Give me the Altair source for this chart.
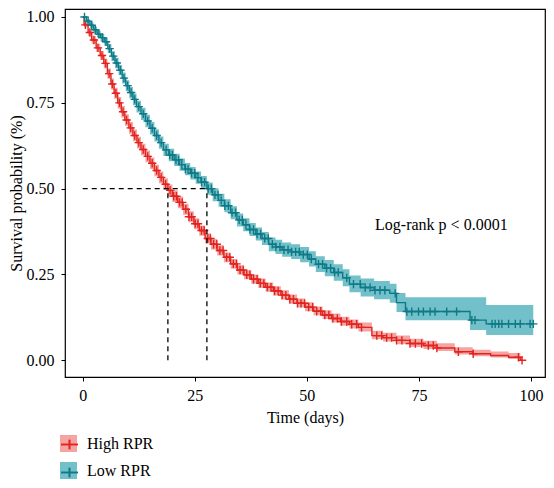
import numpy as np
import pandas as pd
import altair as alt

groups = ["High RPR", "Low RPR"]
line_colors = ["#E3231F", "#0F7A86"]
fill_colors = ["#F4A5A2", "#72C0C9"]

# ---- High RPR (red) Kaplan-Meier steps ----
high_time = [0.0, 0.3, 1.2, 2.0, 3.0, 3.9, 4.7, 5.5, 6.3, 7.0, 7.8, 8.6, 9.4, 10.3, 11.2,
             12.1, 13.0, 14.0, 15.0, 16.0, 17.0, 18.0, 19.0, 20.0, 21.2, 22.4, 23.6, 24.8,
             26.0, 27.3, 28.6, 30.0, 31.5, 33.0, 34.5, 36.0, 37.6, 39.2, 40.8, 42.5, 44.2,
             46.0, 47.8, 49.6, 51.5, 53.5, 55.5, 57.5, 59.5, 61.5, 64.5, 67.0, 70.0, 73.0,
             76.0, 79.0, 83.0, 87.0, 91.0, 95.0, 97.6]
high_surv = [1.000, 0.977, 0.955, 0.933, 0.910, 0.888, 0.865, 0.835, 0.805, 0.778, 0.750,
             0.724, 0.700, 0.677, 0.655, 0.634, 0.614, 0.594, 0.574, 0.553, 0.533, 0.513,
             0.495, 0.478, 0.460, 0.440, 0.418, 0.398, 0.378, 0.355, 0.338, 0.320, 0.300,
             0.281, 0.263, 0.249, 0.236, 0.224, 0.213, 0.202, 0.190, 0.178, 0.166, 0.155,
             0.143, 0.132, 0.122, 0.113, 0.105, 0.096, 0.072, 0.066, 0.058, 0.049, 0.043,
             0.036, 0.025, 0.019, 0.014, 0.009, 0.000]
high_lo = [1.000, 0.970, 0.945, 0.922, 0.898, 0.875, 0.851, 0.820, 0.789, 0.762, 0.733,
           0.707, 0.683, 0.660, 0.638, 0.617, 0.597, 0.577, 0.557, 0.536, 0.516, 0.496,
           0.478, 0.461, 0.443, 0.424, 0.402, 0.382, 0.363, 0.340, 0.323, 0.305, 0.286,
           0.267, 0.250, 0.236, 0.223, 0.211, 0.200, 0.189, 0.177, 0.165, 0.154, 0.143,
           0.131, 0.120, 0.110, 0.101, 0.093, 0.084, 0.061, 0.055, 0.047, 0.039, 0.033,
           0.027, 0.017, 0.012, 0.008, 0.004, 0.000]
high_hi = [1.000, 0.984, 0.964, 0.944, 0.922, 0.901, 0.879, 0.850, 0.821, 0.794, 0.767,
           0.741, 0.717, 0.694, 0.672, 0.651, 0.631, 0.611, 0.591, 0.570, 0.550, 0.530,
           0.512, 0.495, 0.477, 0.456, 0.434, 0.414, 0.393, 0.370, 0.353, 0.335, 0.314,
           0.295, 0.277, 0.263, 0.250, 0.238, 0.227, 0.216, 0.204, 0.192, 0.180, 0.169,
           0.157, 0.146, 0.136, 0.127, 0.119, 0.110, 0.086, 0.080, 0.072, 0.063, 0.057,
           0.050, 0.038, 0.031, 0.026, 0.021, 0.000]
high_end = 98.0
high_censor = [0.6, 1.6, 2.5, 3.4, 4.3, 5.1, 5.9, 6.6, 7.4, 8.2, 9.0, 9.8, 10.7, 11.6, 12.5,
               13.5, 14.5, 15.5, 16.5, 17.5, 18.5, 19.5, 20.3, 20.9, 21.6, 22.2, 23.0, 23.7,
               24.3, 25.1, 25.7, 26.5, 27.1, 27.9, 28.5, 29.2, 29.9, 30.6, 31.3, 32.1, 32.8,
               33.6, 34.3, 35.1, 35.8, 36.6, 37.3, 38.1, 38.9, 39.6, 40.4, 41.2, 42.0, 42.8,
               43.6, 44.5, 45.3, 46.2, 47.0, 47.9, 48.7, 49.5, 50.4, 51.3, 52.2, 53.1, 54.0,
               54.9, 55.8, 56.8, 57.7, 58.9, 60.0, 61.1, 62.2, 65.6, 66.7, 67.8, 68.9, 70.0,
               71.2, 73.0, 74.2, 75.6, 77.1, 78.2, 79.0, 83.8, 87.1, 97.2, 98.0]

# ---- Low RPR (teal) ----
low_time = [0.0, 0.8, 1.6, 2.4, 3.2, 4.0, 4.8, 5.6, 6.4, 7.2, 8.0, 8.8, 9.6, 10.4, 11.2,
            12.0, 13.0, 14.0, 15.0, 16.0, 17.0, 18.0, 19.2, 20.4, 21.6, 22.8, 24.0, 25.2,
            26.4, 27.7, 29.0, 30.3, 31.6, 33.0, 34.4, 35.8, 37.2, 38.6, 40.0, 41.5, 43.0,
            44.5, 46.5, 48.5, 50.5, 52.0, 54.0, 56.0, 58.0, 59.5, 62.0, 65.0, 68.5, 70.0,
            72.0, 86.4, 90.0]
low_surv = [1.000, 0.988, 0.976, 0.963, 0.950, 0.940, 0.928, 0.908, 0.886, 0.866, 0.845,
            0.822, 0.800, 0.780, 0.760, 0.739, 0.718, 0.697, 0.676, 0.655, 0.634, 0.613,
            0.598, 0.584, 0.570, 0.557, 0.545, 0.532, 0.519, 0.500, 0.482, 0.466, 0.450,
            0.430, 0.409, 0.395, 0.381, 0.368, 0.355, 0.338, 0.330, 0.322, 0.316, 0.308,
            0.295, 0.280, 0.268, 0.256, 0.240, 0.222, 0.212, 0.204, 0.195, 0.168, 0.142,
            0.117, 0.106]
low_lo = [1.000, 0.982, 0.968, 0.954, 0.940, 0.929, 0.916, 0.895, 0.872, 0.851, 0.830,
          0.806, 0.784, 0.763, 0.743, 0.722, 0.700, 0.679, 0.658, 0.637, 0.616, 0.595,
          0.580, 0.566, 0.552, 0.539, 0.527, 0.514, 0.501, 0.482, 0.463, 0.447, 0.431,
          0.411, 0.390, 0.376, 0.362, 0.349, 0.336, 0.318, 0.310, 0.302, 0.295, 0.286,
          0.273, 0.257, 0.245, 0.232, 0.216, 0.198, 0.186, 0.178, 0.168, 0.141, 0.117,
          0.088, 0.074]
low_hi = [1.000, 0.994, 0.984, 0.972, 0.960, 0.951, 0.940, 0.921, 0.900, 0.881, 0.860,
          0.838, 0.816, 0.797, 0.777, 0.756, 0.736, 0.715, 0.694, 0.673, 0.652, 0.631,
          0.616, 0.602, 0.588, 0.575, 0.563, 0.550, 0.537, 0.518, 0.501, 0.485, 0.469,
          0.449, 0.428, 0.414, 0.400, 0.387, 0.374, 0.358, 0.351, 0.343, 0.338, 0.330,
          0.318, 0.303, 0.292, 0.280, 0.265, 0.247, 0.238, 0.231, 0.223, 0.196, 0.184,
          0.184, 0.161]
low_end = 100.5
low_censor = [0.4, 1.2, 2.0, 2.8, 3.6, 4.4, 5.2, 6.0, 6.8, 7.6, 8.4, 9.2, 10.0, 10.8, 11.6,
              12.5, 13.5, 14.5, 15.5, 16.5, 17.5, 18.6, 19.4, 20.0, 20.8, 21.4, 22.1, 22.9,
              23.5, 24.3, 25.0, 25.7, 26.5, 27.2, 28.0, 28.7, 29.5, 30.2, 30.9, 31.7, 32.5,
              33.3, 34.1, 34.9, 35.6, 36.4, 37.3, 38.1, 38.9, 39.7, 40.6, 41.4, 42.3, 43.1,
              44.0, 44.9, 45.8, 46.6, 47.5, 48.3, 49.2, 50.1, 51.0, 52.6, 53.5, 54.4, 55.3,
              56.2, 57.0, 58.9, 60.4, 61.9, 63.0, 64.1, 65.2, 66.3, 67.4, 69.7, 72.3, 73.4,
              74.9, 76.0, 77.5, 78.6, 81.2, 83.4, 86.8, 87.5, 91.3, 92.0, 92.8, 93.5, 95.0,
              96.5, 97.6, 99.8, 100.5]

median_times = [19.0, 27.7]
median_level = 0.5
x_ticks = [0, 25, 50, 75, 100]
y_ticks = [0.0, 0.25, 0.5, 0.75, 1.0]
pval_text = "Log-rank p < 0.0001"
pval_t, pval_s = 80.0, 0.38


def frames(name, times, surv, lo, hi, end, censor):
    curve = pd.DataFrame({
        "time": list(times) + [end],
        "surv": list(surv) + [surv[-1]],
        "lo": list(lo) + [lo[-1]],
        "hi": list(hi) + [hi[-1]],
        "group": name,
    })
    idx = np.searchsorted(np.array(times), np.array(censor), side="right") - 1
    cens = pd.DataFrame({"time": censor, "surv": np.array(surv)[idx], "group": name})
    return curve, cens


c1, k1 = frames(groups[0], high_time, high_surv, high_lo, high_hi, high_end, high_censor)
c2, k2 = frames(groups[1], low_time, low_surv, low_lo, low_hi, low_end, low_censor)
curves = pd.concat([c1, c2], ignore_index=True)
censors = pd.concat([k1, k2], ignore_index=True)

FONT = "Liberation Serif"
xscale = alt.Scale(domain=[-3.95, 103.12], nice=False, zero=False)
yscale = alt.Scale(domain=[-0.0486, 1.0233], nice=False, zero=False)
xaxis = alt.Axis(values=x_ticks, title="Time (days)", labelPadding=6, titlePadding=6,
                 format="d")
yaxis = alt.Axis(values=y_ticks, title="Survival probability (%)", format=".2f",
                 labelPadding=7, titlePadding=2)

cross_path = "M-1,0H1M0,-1V1"
legend_cross = "M-1,0H1M0,-0.55V0.55"

common_leg = dict(title=None, orient="none", legendX=-5, legendY=426, symbolSize=289,
                  labelFont=FONT, labelFontSize=16, labelColor="black", labelOffset=10,
                  rowPadding=10, padding=0)
fill_legend = alt.Legend(symbolType="square", symbolStrokeWidth=0, symbolOpacity=1,
                         **common_leg)
stroke_legend = alt.Legend(symbolType=legend_cross, symbolStrokeWidth=1.6,
                           symbolFillColor="transparent", labelExpr="''", **common_leg)

fill_enc = alt.Fill("group:N", scale=alt.Scale(domain=groups, range=fill_colors),
                    legend=fill_legend)
stroke_enc = alt.Stroke("group:N", scale=alt.Scale(domain=groups, range=line_colors),
                        legend=stroke_legend)

bands = alt.Chart(curves).mark_area(interpolate="step-after", opacity=1).encode(
    x=alt.X("time:Q", scale=xscale, axis=xaxis),
    y=alt.Y("lo:Q", scale=yscale, axis=yaxis),
    y2="hi:Q",
    fill=fill_enc,
)

lines = alt.Chart(curves).mark_line(interpolate="step-after", strokeWidth=1.4).encode(
    x=alt.X("time:Q", scale=xscale, axis=xaxis),
    y=alt.Y("surv:Q", scale=yscale, axis=yaxis),
    stroke=stroke_enc,
)

marks = alt.Chart(censors).mark_point(shape=cross_path, size=70, strokeWidth=1.4,
                                      filled=False, opacity=1).encode(
    x=alt.X("time:Q", scale=xscale, axis=xaxis),
    y=alt.Y("surv:Q", scale=yscale, axis=yaxis),
    stroke=stroke_enc,
)

vdf = pd.DataFrame({"time": median_times, "base": [0.0] * len(median_times),
                    "level": [median_level] * len(median_times)})
vrules = alt.Chart(vdf).mark_rule(color="black", strokeWidth=1.3, strokeDash=[5, 4]).encode(
    x=alt.X("time:Q", scale=xscale),
    y=alt.Y("base:Q", scale=yscale),
    y2="level:Q",
)
hdf = pd.DataFrame({"start": [0.0], "stop": [max(median_times)], "level": [median_level]})
hrule = alt.Chart(hdf).mark_rule(color="black", strokeWidth=1.3, strokeDash=[5, 4]).encode(
    x=alt.X("start:Q", scale=xscale),
    x2="stop:Q",
    y=alt.Y("level:Q", scale=yscale),
)

tdf = pd.DataFrame({"t": [pval_t], "s": [pval_s], "label": [pval_text]})
ptext = alt.Chart(tdf).mark_text(font=FONT, fontSize=16, align="center",
                                 baseline="alphabetic", color="black").encode(
    x=alt.X("t:Q", scale=xscale),
    y=alt.Y("s:Q", scale=yscale),
    text="label:N",
)

chart = alt.layer(bands, lines, marks, vrules, hrule, ptext).resolve_scale(
    fill="independent", stroke="independent"
).properties(
    width=480, height=368,
    autosize=alt.AutoSizeParams(type="none"),
    padding={"left": 57, "top": 1, "right": 1, "bottom": 103},
).configure_view(
    stroke="black", strokeWidth=1.2
).configure_axis(
    domain=False, grid=False, ticks=True, tickColor="black", tickSize=4, tickWidth=1,
    labelFont=FONT, labelFontSize=16, labelColor="black",
    titleFont=FONT, titleFontSize=16, titleFontWeight="normal", titleColor="black",
)

chart.save("out.html", embed_options={"renderer": "svg", "actions": False})
